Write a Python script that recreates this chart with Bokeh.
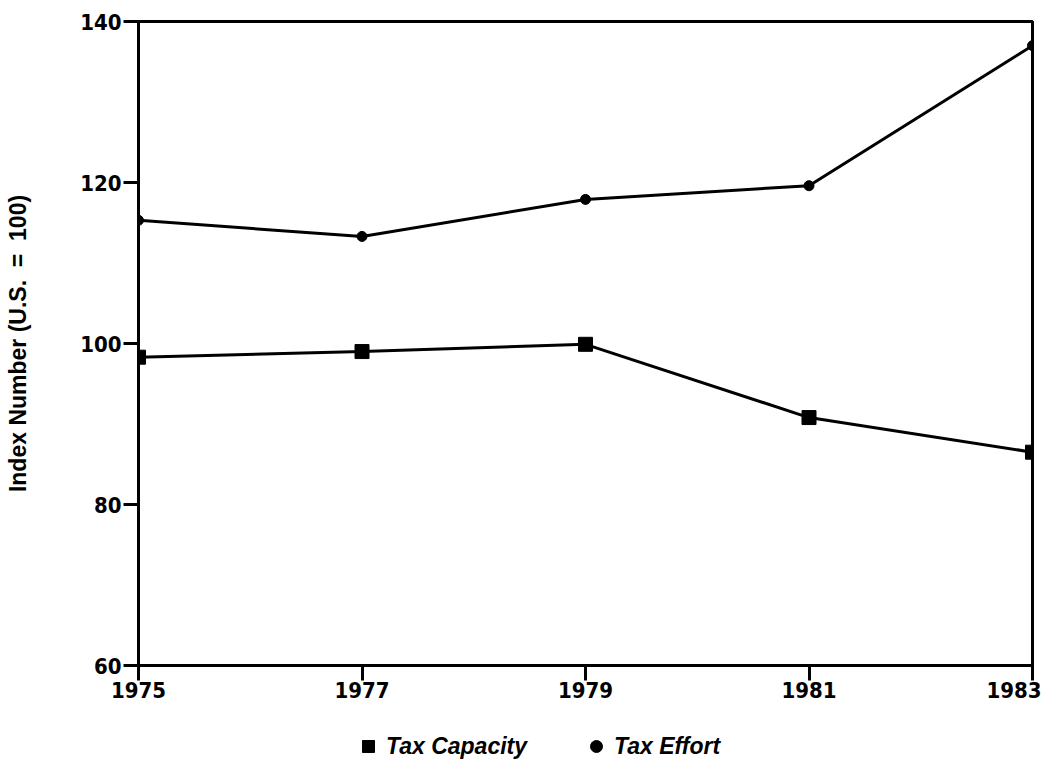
from bokeh.plotting import figure
from bokeh.layouts import column
from bokeh.models import Legend, LegendItem, FixedTicker, Range1d
from bokeh.embed import file_html
from bokeh.resources import INLINE

years = [1975, 1977, 1979, 1981, 1983]
tax_capacity = [98.3, 99.0, 99.9, 90.8, 86.5]
tax_effort = [115.3, 113.3, 117.9, 119.6, 137.0]
y_ticks = [60, 80, 100, 120, 140]
series_names = ["Tax Capacity", "Tax Effort"]

fig = figure(width=1041, height=710, output_backend="svg", toolbar_location=None,
             x_range=Range1d(1975, 1983), y_range=Range1d(60, 140),
             min_border_left=138, min_border_top=21, min_border_right=9, min_border_bottom=45)

fig.grid.visible = False
fig.outline_line_color = "black"
fig.outline_line_width = 3
fig.background_fill_color = "white"
fig.border_fill_color = "white"

tick_font = "DejaVu Sans Condensed"
for ax in (fig.xaxis[0], fig.yaxis[0]):
    ax.axis_line_width = 3
    ax.axis_line_color = "black"
    ax.major_tick_line_width = 3
    ax.major_tick_line_color = "black"
    ax.major_tick_out = 15
    ax.major_tick_in = 1
    ax.minor_tick_line_color = None
    ax.major_label_text_font = tick_font
    ax.major_label_text_font_style = "bold"
    ax.major_label_text_font_size = "22px"
    ax.major_label_text_color = "black"

fig.xaxis.ticker = FixedTicker(ticks=years, minor_ticks=[])
fig.yaxis.ticker = FixedTicker(ticks=y_ticks, minor_ticks=[])
fig.xaxis.major_label_standoff = 1
fig.yaxis.major_label_standoff = 2
fig.yaxis.axis_label = "Index Number (U.S.\u00a0\u00a0=\u00a0\u00a0100)"
fig.yaxis.axis_label_text_font = "Liberation Sans"
fig.yaxis.axis_label_text_font_style = "bold"
fig.yaxis.axis_label_text_font_size = "23px"
fig.yaxis.axis_label_text_color = "black"
fig.yaxis.axis_label_standoff = 46

fig.line(years, tax_effort, line_color="black", line_width=3)
fig.line(years, tax_capacity, line_color="black", line_width=3)
fig.scatter(years, tax_effort, marker="circle", size=10, color="black")
fig.scatter(years, tax_capacity, marker="square", size=14, color="black")

# legend strip below the chart (its own series renderers fall outside its view)
leg = figure(width=1041, height=51, output_backend="svg", toolbar_location=None,
             x_axis_type=None, y_axis_type=None,
             x_range=Range1d(1975, 1983), y_range=Range1d(0, 1),
             min_border_left=0, min_border_right=0, min_border_top=0, min_border_bottom=0)
leg.grid.visible = False
leg.outline_line_color = None
leg.background_fill_color = "white"
leg.border_fill_color = "white"
k_cap = leg.scatter(years, tax_capacity, marker="square", size=12, color="black")
k_eff = leg.scatter(years, tax_effort, marker="circle", size=13, color="black")

legend = Legend(items=[LegendItem(label=series_names[0], renderers=[k_cap]),
                       LegendItem(label=series_names[1], renderers=[k_eff])],
                orientation="horizontal", location=(215, 0),
                border_line_alpha=0, background_fill_alpha=0,
                label_text_font="Liberation Sans", label_text_font_style="bold italic",
                label_text_font_size="23px", label_text_color="black",
                spacing=0, label_width=195, glyph_width=30, glyph_height=30,
                label_standoff=3, padding=0, margin=0)
leg.add_layout(legend, "center")

p = column(fig, leg, spacing=0)
open("out.html", "w").write(file_html(p, INLINE))
